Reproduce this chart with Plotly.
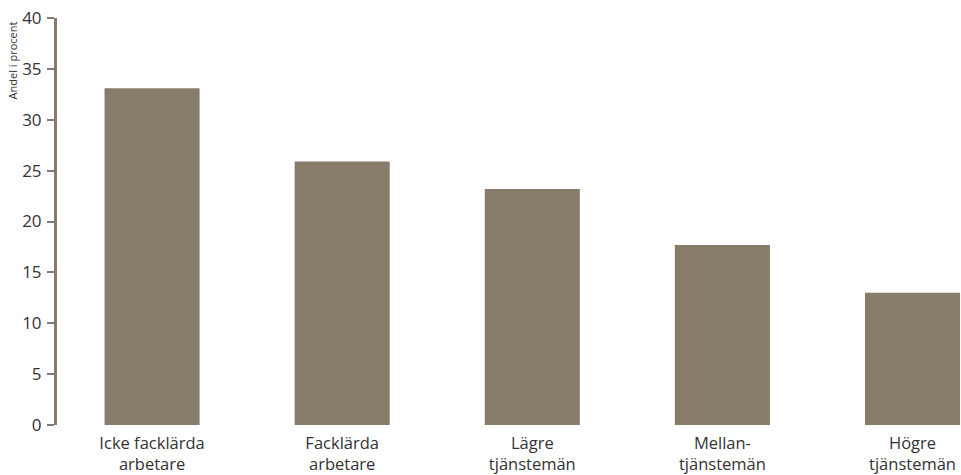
import plotly.graph_objects as go

# Andel per yrkesgrupp (procent)
categories = ["Icke facklärda<br>arbetare", "Facklärda<br>arbetare", "Lägre<br>tjänstemän",
              "Mellan-<br>tjänstemän", "Högre<br>tjänstemän"]
values = [33.1, 25.9, 23.2, 17.7, 13.0]
y_ticks = [0, 5, 10, 15, 20, 25, 30, 35, 40]

BAR = "#877B6A"
AXIS = "#857A6B"
TEXT = "#333333"
FONT = "Open Sans, Noto Sans, sans-serif"

fig = go.Figure(go.Bar(
    x=list(range(len(categories))),
    y=values,
    marker=dict(color=BAR, line=dict(width=0)),
    width=0.5,
    hoverinfo="skip",
))

fig.update_layout(
    width=961, height=475,
    margin=dict(l=57, r=0, t=18, b=50),
    paper_bgcolor="white", plot_bgcolor="white",
    showlegend=False,
    font=dict(family=FONT, color=TEXT, size=16),
    xaxis=dict(
        range=[-0.5, 4.255],
        tickmode="array",
        tickvals=list(range(len(categories))),
        ticktext=categories,
        showline=False, showgrid=False, zeroline=False,
        ticks="", ticklen=0,
        ticklabelstandoff=6,
        tickfont=dict(size=16.5, color=TEXT),
    ),
    yaxis=dict(
        range=[0, 40],
        tickmode="array",
        tickvals=y_ticks,
        showline=True, linecolor=AXIS, linewidth=3,
        ticks="outside", ticklen=7, tickwidth=2, tickcolor=AXIS,
        ticklabelstandoff=2,
        showgrid=False, zeroline=False,
        tickfont=dict(size=17, color=TEXT),
    ),
    annotations=[dict(
        text="Andel i procent",
        xref="paper", yref="paper",
        x=-0.0495, y=0.997,
        xanchor="center", yanchor="top",
        textangle=-90, showarrow=False,
        font=dict(size=11, color=TEXT, family=FONT),
    )],
)

fig.write_html("out.html")
